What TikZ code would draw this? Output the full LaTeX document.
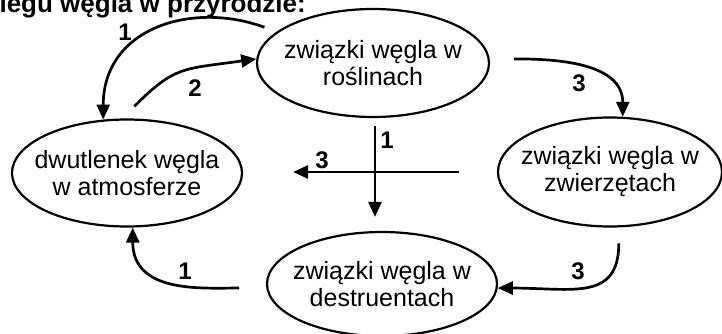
\documentclass[tikz,border=0pt]{standalone}
\usepackage{fontspec}
\setmainfont{Liberation Sans}
\usepackage{tikz}
\usetikzlibrary{shapes, arrows.meta, positioning, calc}

\begin{document}
\begin{tikzpicture}[x=1pt, y=1pt,
  pool/.style={draw, ellipse, line width=2.2pt, inner sep=-20pt, align=center,
    font=\fontsize{25}{27}\selectfont},
  flow/.style={line width=2.7pt, -{Triangle[length=15pt, width=13pt]}},
  num/.style={font=\bfseries\fontsize{24}{24}\selectfont, inner sep=0pt}]
\useasboundingbox (0,0) rectangle (722,333);
\clip (0,0) rectangle (722,333);

\node[font=\bfseries\fontsize{26}{26}\selectfont, anchor=base east, inner sep=0pt] (title) at (306,320) {iegu węgla w przyrodzie:};

\node[pool, minimum width=232pt, minimum height=108pt] (roslinach) at (373,270) {związki węgla w\\roślinach};
\node[pool, minimum width=230pt, minimum height=107pt] (atmosfera) at (127,160) {dwutlenek węgla\\w atmosferze};
\node[pool, minimum width=224pt, minimum height=109pt] (zwierzeta) at (610,161) {związki węgla w\\zwierzętach};
\node[pool, minimum width=230pt, minimum height=104pt] (destruenci) at (382,49) {związki węgla w\\destruentach};

\draw[flow, shorten <=13pt] (roslinach.162) to[out=160, in=90, looseness=1.2] (atmosfera.114);
\draw[flow, shorten <=17pt] (atmosfera.95) to[out=45, in=188, looseness=1.3] (roslinach.178);
\draw[flow, shorten <=24pt] (roslinach.2) to[out=0, in=90] (zwierzeta.77);
\draw[flow, shorten <=16pt] (zwierzeta.-81) to[out=-90, in=0, looseness=1.4] (destruenci.-2.5);
\draw[flow, shorten <=27pt] (destruenci.182) to[out=180, in=-90, looseness=1.15] (atmosfera.-84);

% skrzyzowanie
\coordinate (cross) at (375,161);
\draw[flow, shorten <=8pt, shorten >=14pt] (cross |- roslinach.south) -- (cross |- destruenci.north);
\draw[flow, shorten <=38pt, shorten >=50pt] (cross -| zwierzeta.west) -- (cross -| atmosfera.east);

\node[num] (n1) at (125,301) {1};
\node[num] (n2) at (195,245) {2};
\node[num] (n3) at (579,250) {3};
\node[num] (n4) at (578,62) {3};
\node[num] (n5) at (185,62) {1};
\node[num] (n6) at (387,193) {1};
\node[num] (n7) at (322,173) {3};
\end{tikzpicture}
\end{document}
